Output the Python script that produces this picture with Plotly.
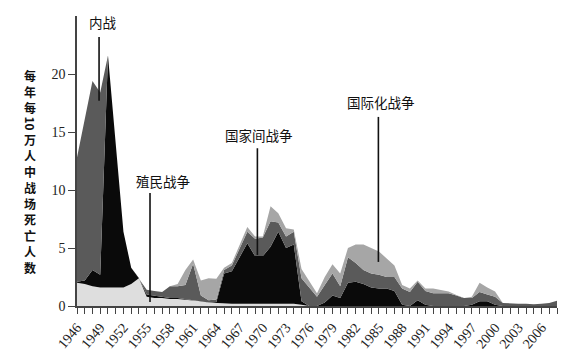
import plotly.graph_objects as go

years = list(range(1946, 2009))

colonial = [2.0, 1.9, 1.7, 1.6, 1.6, 1.6, 1.6, 1.9, 2.4, 0.8,
            0.7, 0.7, 0.6, 0.6, 0.55, 0.5, 0.4, 0.3, 0.25, 0.2,
            0.2, 0.2, 0.2, 0.2, 0.2, 0.2, 0.2, 0.2, 0.2, 0.1,
            0, 0, 0, 0, 0, 0, 0, 0, 0, 0,
            0, 0, 0, 0, 0, 0, 0, 0, 0, 0,
            0, 0, 0, 0, 0, 0, 0, 0, 0, 0,
            0, 0, 0]

interstate = [0.1, 0.3, 1.4, 1.1, 20.0, 12.4, 4.8, 1.4, 0, 0.2,
              0.2, 0.1, 0.1, 0.1, 0.05, 0.05, 0, 0, 0.1, 2.6,
              2.8, 4.0, 5.2, 4.1, 4.1, 4.9, 6.2, 4.8, 5.1, 0.3,
              0, 0, 0.3, 0.9, 0.7, 2.0, 2.1, 1.9, 1.6, 1.5,
              1.5, 1.3, 0.1, 0, 0.5, 0.1, 0, 0, 0, 0,
              0, 0.1, 0.4, 0.4, 0.1, 0, 0, 0, 0, 0,
              0, 0, 0]

civil = [10.7, 13.8, 16.3, 15.7, 0, 0, 0, 0, 0, 0.4,
         0.4, 0.4, 1.0, 1.0, 1.2, 3.1, 0.5, 0.2, 0.2, 0.3,
         0.5, 0.8, 1.0, 1.5, 1.6, 2.2, 0.8, 1.0, 1.1, 2.0,
         1.6, 0.8, 1.5, 1.9, 1.0, 2.2, 1.6, 1.2, 1.2, 1.2,
         1.0, 1.2, 1.4, 1.2, 1.6, 1.2, 1.1, 1.1, 1.1, 0.9,
         0.7, 0.6, 0.8, 0.6, 0.7, 0.25, 0.2, 0.2, 0.2, 0.15,
         0.2, 0.25, 0.45]

internationalized = [0, 0, 0, 0, 0, 0, 0, 0, 0, 0,
                     0, 0, 0, 0.2, 1.3, 0.35, 1.3, 1.9, 1.8, 0.2,
                     0.2, 0.2, 0.4, 0.2, 0.1, 1.3, 0.8, 0.7, 0.2, 0.8,
                     0.5, 0.3, 0.7, 0.8, 1.1, 0.8, 1.6, 2.2, 2.2, 2.0,
                     1.6, 1.0, 0.3, 0.3, 0.1, 0.2, 0.4, 0.3, 0.15, 0.05,
                     0, 0.1, 0.8, 0.6, 0.45, 0, 0, 0, 0, 0,
                     0, 0, 0]

tick_labels = [str(y) if (y - 1946) % 3 == 0 and y <= 2006 else "" for y in years]

series = [
    ("殖民战争", colonial, "#dedede"),
    ("国家间战争", interstate, "#0a0a0a"),
    ("内战", civil, "#5a5a5a"),
    ("国际化战争", internationalized, "#a6a6a6"),
]

fig = go.Figure()
for name, vals, col in series:
    fig.add_trace(go.Scatter(
        x=years, y=vals, name=name, mode="lines",
        stackgroup="one", line=dict(width=0, color=col),
        fillcolor=col, hoverinfo="skip"))

serif = "Liberation Serif"
cjk = "Noto Sans CJK SC"

# callout labels: (text, text_x, text_y, line_x, line_y0, line_y1)
callouts = [
    ("内战", 1949.4, 24.45, 1948.85, 23.2, 17.7),
    ("殖民战争", 1957.05, 10.8, 1955.43, 9.75, 0.35),
    ("国家间战争", 1969.5, 14.75, 1969.3, 13.6, 4.4),
    ("国际化战争", 1985.3, 17.55, 1984.93, 16.3, 3.8),
]
annotations = []
shapes = []
for txt, tx, ty, lx, ly0, ly1 in callouts:
    annotations.append(dict(x=tx, y=ty, xref="x", yref="y", text=txt,
                            showarrow=False, xanchor="center", yanchor="middle",
                            font=dict(family=cjk, size=13.5, color="#111")))
    shapes.append(dict(type="line", xref="x", yref="y", x0=lx, x1=lx,
                       y0=ly0, y1=ly1, line=dict(color="#111", width=1.6)))

# vertical y-axis title, one glyph per slot (page pixel positions)
title_glyphs = ["每", "年", "每", "10", "万", "人", "中", "战", "场", "死", "亡", "人", "数"]
plot_left, plot_w, plot_bottom, plot_h = 77, 480, 306, 290   # page pixels
for i, g in enumerate(title_glyphs):
    py = 75.5 + 16.0 * i
    annotations.append(dict(
        x=(30 - plot_left) / plot_w, y=(plot_bottom - py) / plot_h,
        xref="paper", yref="paper", text="<b>" + g + "</b>", showarrow=False,
        xanchor="center", yanchor="middle", borderpad=0,
        textangle=90 if g == "10" else 0,
        font=dict(family=cjk, size=12, color="#111")))

# the page body adds an 8px offset; compensate so the plot lands where intended
off = 8
W, H = 566 - off, 355 - off
fig.update_layout(
    width=W, height=H,
    margin=dict(l=77 - off, r=W - (557 - off), t=16 - off,
                b=H - (306 - off)),
    paper_bgcolor="white", plot_bgcolor="white",
    showlegend=False,
    annotations=annotations, shapes=shapes,
    xaxis=dict(range=[1946, 2008], tickvals=years, ticktext=tick_labels,
               tickangle=-50, ticks="outside", ticklen=6, tickcolor="#444",
               tickwidth=1.2, showline=True, linecolor="#444", linewidth=1.5,
               showgrid=False, zeroline=False, automargin=False,
               tickfont=dict(family=serif, size=14, color="#222")),
    yaxis=dict(range=[0, 25], tickvals=[0, 5, 10, 15, 20],
               ticks="outside", ticklen=7, tickcolor="#444", tickwidth=1.2,
               showline=True, linecolor="#444", linewidth=1.5,
               showgrid=False, zeroline=False, automargin=False,
               tickfont=dict(family=serif, size=14, color="#222")),
)

fig.write_html("out.html")
